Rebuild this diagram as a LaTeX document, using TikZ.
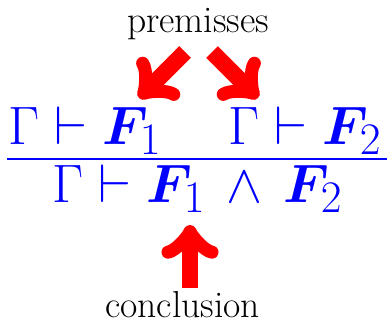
\documentclass[tikz,border=0pt]{standalone}
\usepackage{amsmath}
\usepackage{bm}
\tikzset{
  seq/.style={inner sep=0pt, text=blue, font=\Huge},
  tag/.style={inner sep=0pt, font=\LARGE},
  point/.style={->, red, line width=7.5pt},
}
\begin{document}
\begin{tikzpicture}[x=0.46pt, y=0.46pt]
  \useasboundingbox (0,0) rectangle (389,321);
  % premises and conclusion
  \node[seq, anchor=base west] (premA) at (8,177) {$\Gamma \vdash \bm{F}_1$};
  \node[seq, anchor=base west] (premB) at (228,177) {$\Gamma \vdash \bm{F}_2$};
  \node[seq, anchor=base] (concl) at (197.5,119) {$\Gamma \vdash \bm{F}_1 \,\wedge\, \bm{F}_2$};
  \coordinate (ruleL) at (7,162);
  \coordinate (ruleR) at (387,162);
  \draw[blue, line width=0.6pt] (ruleL) -- (ruleR);
  % labels
  \node[tag, anchor=base] (premLabel) at (198,288) {premisses};
  \node[tag, anchor=base] (concLabel) at (182.5,4) {conclusion};
  \coordinate (tailA) at (185,269);
  \coordinate (tipA) at (139,223);
  \coordinate (tailB) at (212,269);
  \coordinate (tipB) at (258,223);
  \coordinate (tailC) at (190,33);
  \coordinate (tipC) at (190,96);
  \draw[point] (tailA) -- (tipA);
  \draw[point] (tailB) -- (tipB);
  \draw[point] (tailC) -- (tipC);
\end{tikzpicture}
\end{document}
